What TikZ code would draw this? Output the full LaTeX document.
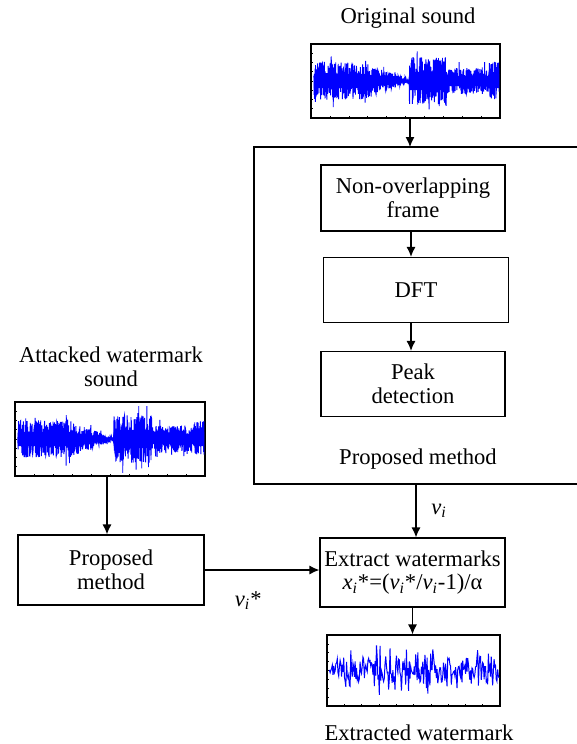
\documentclass[tikz,border=0pt]{standalone}
\usepackage{fontspec}
\setmainfont{Liberation Serif}
\usetikzlibrary{arrows.meta}

\tikzset{
  blk/.style={draw, line width=0.6pt, align=center, inner sep=1pt},
  wavebox/.style={draw, line width=0.6pt, inner sep=0pt},
  wave/.style={blue, line width=0.45pt},
  flow/.style={-{Latex[length=5pt,width=4.5pt]}, line width=0.6pt},
}
% envelope of the sound clips, t in [0,1]
\pgfmathdeclarefunction{envA}{1}{%
  \pgfmathparse{(#1<0.3) ? 0.55 : ((#1<0.52) ? (0.5-0.46*(#1-0.3)/0.22) : ((#1<0.72) ? 0.7 : ((#1<0.94) ? 0.4 : 0.55)))}}

\begin{document}
\begin{tikzpicture}[x=0.5pt,y=-0.5pt,font=\fontsize{11.3}{11.8}\selectfont]
  \useasboundingbox (0,0) rectangle (577,744);
  \pgfmathsetseed{2718}

  % original sound
  \node (orig) at (408,18) {Original sound};
  \node[wavebox, minimum width=94.5pt, minimum height=37pt] (wave1) at (405.5,81) {};
  \fill[blue] plot[domain=0.015:0.995, samples=150] ({311+189*\x},{81-13*envA(\x)})
    -- plot[domain=0.995:0.015, samples=150] ({311+189*\x},{81+13*envA(\x)}) -- cycle;
  \draw[wave] plot[domain=0.015:0.995, samples=1100] ({311+189*\x},{81+34*envA(\x)*rand*(1+0.45*(rnd>0.93))});
  \foreach \i in {0,...,10}
    \draw[line width=0.3pt] ({311+18.9*\i},118) -- ++(0,-2);
  \foreach \i in {0,...,8}
    \draw[line width=0.3pt] (311,{44+9.25*\i}) -- ++(2,0);

  % proposed method (box open to the right)
  \coordinate (boxtop) at (410,147);
  \coordinate (boxbot) at (416,484);
  \draw[line width=0.6pt] (577,147) -| (254,484) -- (577,484);
  \draw[flow] (wave1.south -| boxtop) -- (boxtop);

  \node[blk, minimum width=92pt, minimum height=33pt] (frame) at (413,198) {Non-overlapping\\frame};
  \node[blk, minimum width=92.5pt, minimum height=32.5pt] (dft) at (416,290) {DFT};
  \node[blk, minimum width=92pt, minimum height=32.5pt] (peak) at (413,384) {Peak\\detection};
  \node (pm) at (418,459) {Proposed method};
  \draw[flow] (frame.south -| 411,0) -- (dft.north -| 411,0);
  \draw[flow] (dft.south -| 411,0) -- (peak.north -| 411,0);

  % extraction
  \node[blk, minimum width=92.5pt, minimum height=34.5pt] (extract) at (412.5,572.5)
    {Extract watermarks\\\textit{x}\textsubscript{\textit{i}}*=(\textit{v}\textsubscript{\textit{i}}*/\textit{v}\textsubscript{\textit{i}}-1)/α};
  \draw[flow] (boxbot) -- (boxbot |- extract.north)
    node[midway, right=4pt] {\textit{v}\textsubscript{\textit{i}}};

  \node[wavebox, minimum width=86.5pt, minimum height=35.5pt] (wavex) at (413.5,670.5) {};
  \draw[blue, line width=0.5pt] plot[domain=0.01:0.995, samples=240] ({327+173*\x},{670+13*rand+17*rand*rnd});
  \foreach \i in {0,...,10}
    \draw[line width=0.3pt] ({327+17.3*\i},706) -- ++(0,-2);
  \foreach \i in {0,...,8}
    \draw[line width=0.3pt] (327,{635+8.875*\i}) -- ++(2,0);
  \draw[flow] (extract.south) -- (extract.south |- wavex.north);
  \node (extracted) at (419,733) {Extracted watermark};

  % attacked sound
  \node[align=center] (attacked) at (111,366.5) {Attacked watermark\\sound};
  \node[wavebox, minimum width=95pt, minimum height=37pt] (wave2) at (110,439) {};
  \fill[blue] plot[domain=0.015:0.995, samples=150] ({15+190*\x},{439-13*envA(\x)})
    -- plot[domain=0.995:0.015, samples=150] ({15+190*\x},{439+13*envA(\x)}) -- cycle;
  \draw[wave] plot[domain=0.015:0.995, samples=1100] ({15+190*\x},{439+34*envA(\x)*rand*(1+0.45*(rnd>0.93))});
  \foreach \i in {0,...,10}
    \draw[line width=0.3pt] ({15+19*\i},476) -- ++(0,-2);
  \foreach \i in {0,...,8}
    \draw[line width=0.3pt] (15,{402+9.25*\i}) -- ++(2,0);

  \node[blk, minimum width=93pt, minimum height=35pt] (propm) at (111,570) {Proposed\\method};
  \draw[flow] (wave2.south -| 107,0) -- (propm.north -| 107,0);
  \draw[flow] (propm.east) -- (propm.east -| extract.west)
    node[pos=0.38, below=7pt] {\textit{v}\textsubscript{\textit{i}}*};
\end{tikzpicture}
\end{document}
